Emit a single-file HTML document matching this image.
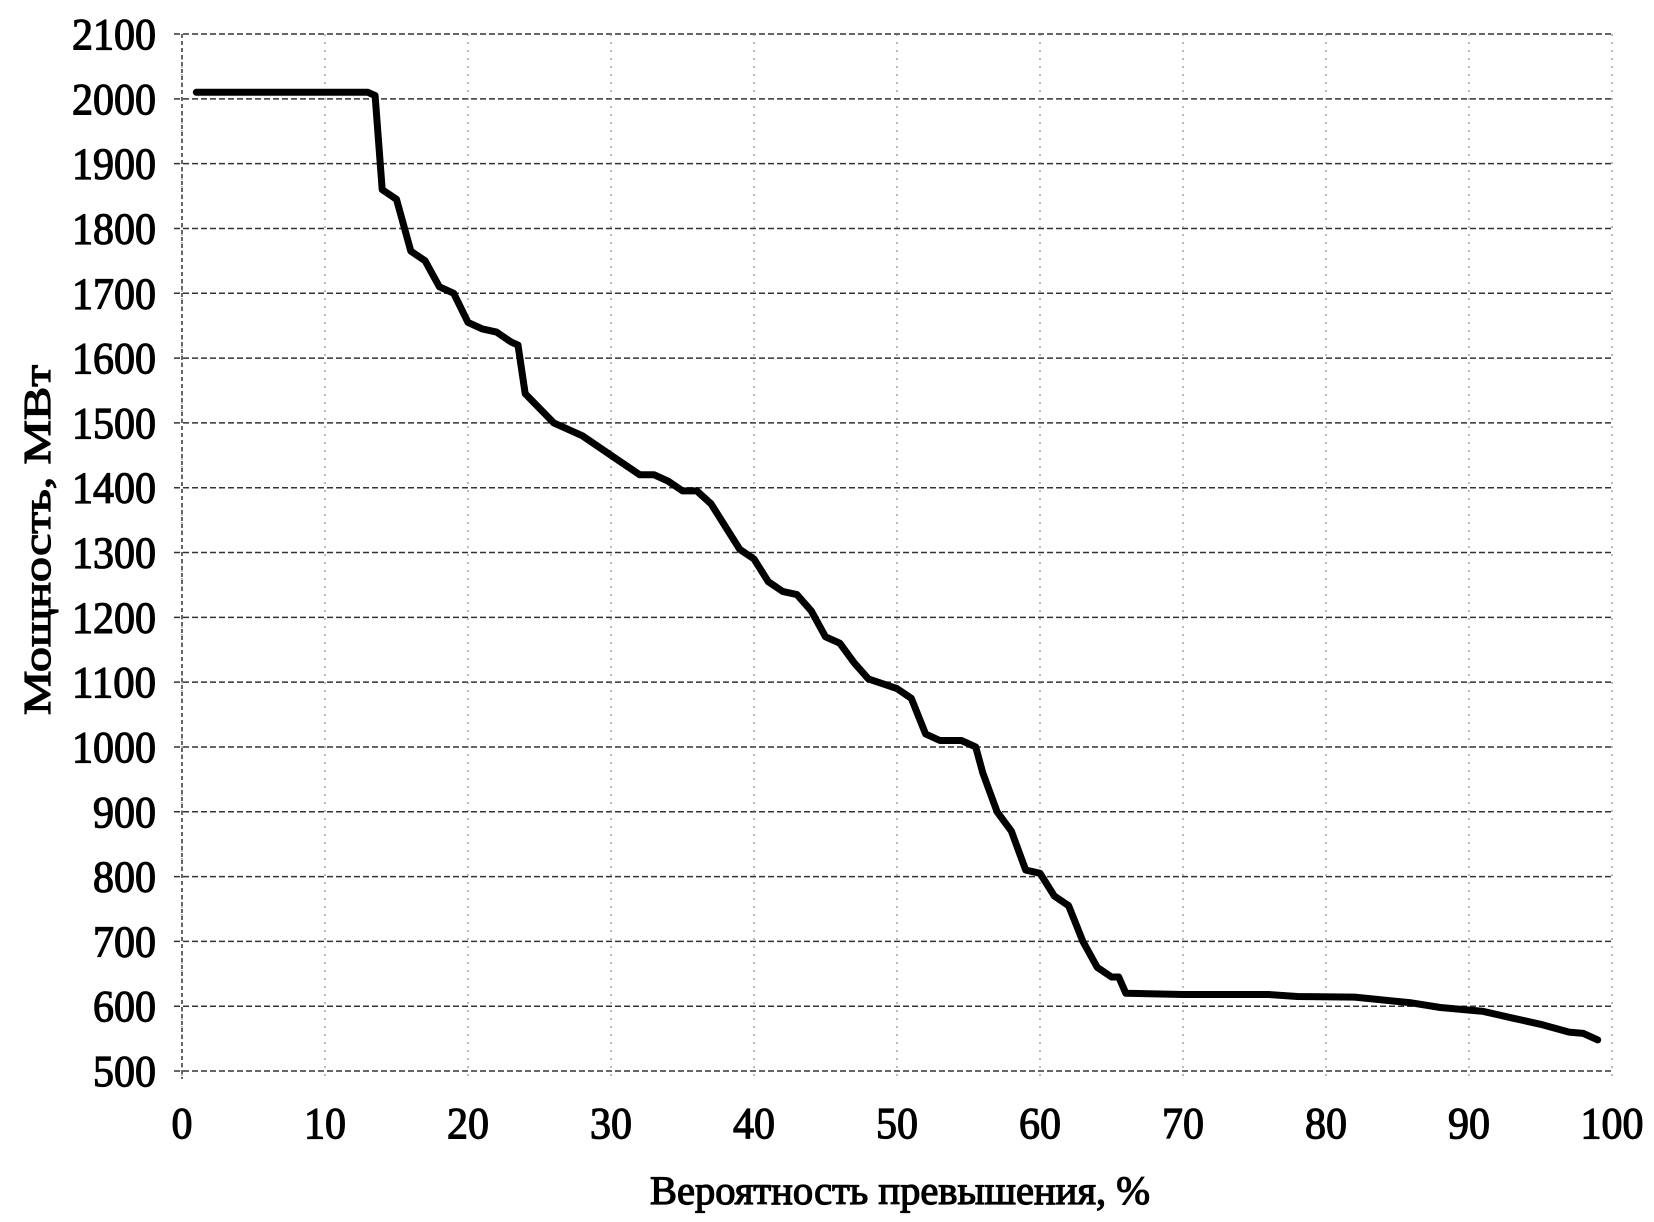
<!DOCTYPE html>
<html><head><meta charset="utf-8"><style>
html,body{margin:0;padding:0;background:#fff;}
svg{display:block;}
text{font-family:"Liberation Serif",serif;fill:#000;stroke:#000;stroke-width:1.2px;}
</style></head><body>
<svg id="chart" width="1654" height="1222" viewBox="0 0 1654 1222" xmlns="http://www.w3.org/2000/svg">
<g id="grid"></g>
<g id="ticks"></g>
<path id="line" fill="none" stroke="#000" stroke-width="7" stroke-linejoin="round" stroke-linecap="round"></path>
<text transform="translate(50,540) rotate(-90)" text-anchor="middle" font-size="38" textLength="350" lengthAdjust="spacingAndGlyphs">Мощность, МВт</text>
<text x="900" y="1204" text-anchor="middle" font-size="40" textLength="500" lengthAdjust="spacingAndGlyphs">Вероятность превышения, %</text>
</svg>
<script>
const xTicks=[0,10,20,30,40,50,60,70,80,90,100];
const yTicks=[500,600,700,800,900,1000,1100,1200,1300,1400,1500,1600,1700,1800,1900,2000,2100];
const probability=[1,13,13.5,14,15,16,17,18,19,20,21,22,23,23.5,24,26,28,30,32,33,34,35,36,37,38,39,40,41,42,43,44,45,46,47,48,50,51,52,53,54.5,55.5,56,57,58,59,60,61,62,63,64,65,65.5,66,70,76,78,82,86,88,91,93,95,97,98,99];
const power=[2010,2010,2005,1860,1845,1765,1750,1710,1700,1655,1645,1640,1625,1620,1545,1500,1480,1450,1420,1420,1410,1395,1395,1375,1340,1305,1290,1255,1240,1235,1210,1170,1160,1130,1105,1090,1075,1020,1010,1010,1000,960,900,870,810,805,770,755,700,660,645,645,620,618,618,615,614,605,598,592,582,572,560,558,548];
const X0=182,X1=1612,Y0=1071,Y1=34;
const xs=v=>X0+(v-0)/(100-0)*(X1-X0);
const ys=v=>Y0-(v-500)/(2100-500)*(Y0-Y1);
const NS="http://www.w3.org/2000/svg";
const grid=document.getElementById('grid'),ticks=document.getElementById('ticks');
yTicks.forEach(t=>{
 const l=document.createElementNS(NS,'line');
 
 
 l.setAttribute('x1',X0-8);l.setAttribute('x2',X1);l.setAttribute('y1',ys(t));l.setAttribute('y2',ys(t));
 l.setAttribute('stroke','#333');l.setAttribute('stroke-width','1.5');l.setAttribute('stroke-dasharray','6 3');
 grid.appendChild(l);
 const tx=document.createElementNS(NS,'text');
 
 
 tx.setAttribute('x',156);tx.setAttribute('y',ys(t)+15);tx.setAttribute('text-anchor','end');
 tx.setAttribute('font-size','44');
 tx.setAttribute('textLength',String(t).length*21);tx.setAttribute('lengthAdjust','spacingAndGlyphs');
 tx.textContent=t;ticks.appendChild(tx);
});
xTicks.forEach(t=>{
 const l=document.createElementNS(NS,'line');
 
 
 l.setAttribute('x1',xs(t));l.setAttribute('x2',xs(t));l.setAttribute('y1',Y1);l.setAttribute('y2',Y0+8);
 l.setAttribute('stroke','#777');l.setAttribute('stroke-width','1');l.setAttribute('stroke-dasharray','2 6');
 grid.appendChild(l);
 const tx=document.createElementNS(NS,'text');
 
 
 tx.setAttribute('x',xs(t));tx.setAttribute('y',1138);tx.setAttribute('text-anchor','middle');
 tx.setAttribute('font-size','44');
 tx.setAttribute('textLength',String(t).length*21);tx.setAttribute('lengthAdjust','spacingAndGlyphs');
 tx.textContent=t;ticks.appendChild(tx);
});
const ax=document.createElementNS(NS,'line');


ax.setAttribute('x1',X0);ax.setAttribute('x2',X0);ax.setAttribute('y1',Y1);ax.setAttribute('y2',Y0+8);
ax.setAttribute('stroke','#333');ax.setAttribute('stroke-width','1.5');ax.setAttribute('stroke-dasharray','4 3');
grid.appendChild(ax);
document.getElementById('line').setAttribute('d',probability.map((p,i)=>(i?'L':'M')+xs(p).toFixed(1)+' '+ys(power[i]).toFixed(1)).join(' '));
</script>
</body></html>
